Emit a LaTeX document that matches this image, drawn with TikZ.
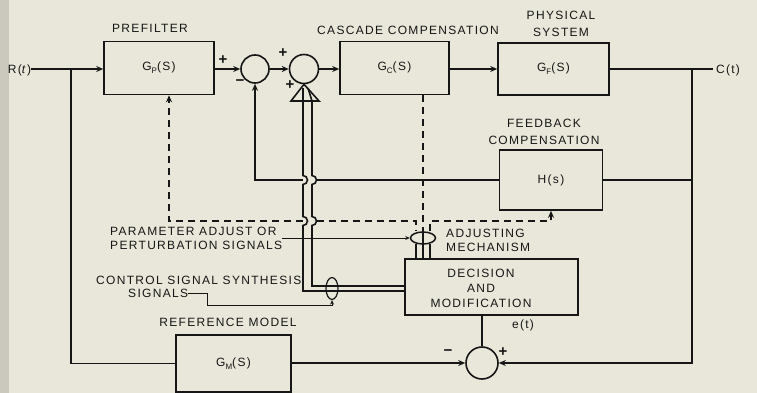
\documentclass[tikz,border=0pt]{standalone}
\usepackage{fontspec}
\setmainfont{Liberation Sans}[LetterSpace=11]
\usetikzlibrary{arrows.meta,shapes.geometric}
\definecolor{paper}{HTML}{E9E7DA}
\definecolor{strip}{HTML}{CBC9BD}
\definecolor{ink}{HTML}{161616}
\newcommand{\ssb}[1]{\raisebox{-0.45ex}{\fontsize{8}{8}\selectfont #1}}
\newcommand{\lbfont}{\fontsize{12}{14}\selectfont}
\begin{document}
\begin{tikzpicture}[x=1pt,y=-1pt,
  every node/.style={text=ink},
  ln/.style={draw=ink,line width=1.6pt},
  thinln/.style={draw=ink,line width=0.9pt,>={Stealth[length=4.5pt,width=4pt]}},
  blk/.style={draw=ink,line width=1.6pt,inner sep=0pt,font=\lbfont},
  sumj/.style={circle,draw=ink,line width=1.6pt,inner sep=0pt},
  lbl/.style={inner sep=0pt,font=\lbfont},
  sgn/.style={inner sep=0pt,font=\fontsize{15}{15}\selectfont\bfseries},
  dsh/.style={draw=ink,line width=1.6pt,dash pattern=on 7pt off 5pt},
  >={Stealth[length=7pt,width=6pt]}]
\fill[paper] (0,0) rectangle (757,393);
\fill[strip] (0,0) rectangle (9,393);
\useasboundingbox (0,0) rectangle (757,393);

% blocks
\node[blk,minimum width=110pt,minimum height=53pt] (pre) at (159,68) {G\ssb{P}(S)};
\node[sumj,minimum size=28pt] (s1) at (255,69) {};
\node[sumj,minimum size=29pt] (s2) at (304,69) {};
\node[blk,minimum width=109pt,minimum height=53pt] (cas) at (394.5,68) {G\ssb{C}(S)};
\node[blk,minimum width=111pt,minimum height=52pt] (phy) at (553.5,69) {G\ssb{F}(S)};
\node[blk,minimum width=103pt,minimum height=60pt] (fb) at (551,180) {H(s)};
\node[blk,minimum width=173pt,minimum height=56pt] (dec) at (491.5,287) {};
\node[lbl,align=center,font=\fontsize{12}{15}\selectfont] (dectxt) at (481,288) {DECISION\\AND\\MODIFICATION};
\node[blk,minimum width=115pt,minimum height=57pt] (ref) at (233.5,363.5) {G\ssb{M}(S)};
\node[sumj,minimum size=32pt] (s3) at (482,363) {};
\node[ellipse,draw=ink,line width=1.5pt,minimum width=25pt,minimum height=12pt,inner sep=0pt] (adj) at (423,238) {};
\node[ellipse,draw=ink,line width=1.2pt,minimum width=12pt,minimum height=22pt,inner sep=0pt] (css) at (332,288.5) {};

% labels
\node[lbl] (lpre) at (150,28) {PREFILTER};
\node[lbl] (lcas) at (408,30) {CASCADE COMPENSATION};
\node[lbl,align=center,font=\fontsize{12}{17}\selectfont] (lphy) at (561,23.5) {PHYSICAL\\SYSTEM};
\node[lbl,align=center,font=\fontsize{12}{17}\selectfont] (lfb) at (544,131.5) {FEEDBACK\\COMPENSATION};
\node[lbl] (rt) at (19.5,70) {R(\textit{t})};
\node[lbl] (ct) at (728,70) {C(t)};
\node[lbl,align=left,anchor=west] (ladj) at (446,240) {ADJUSTING\\MECHANISM};
\node[lbl,align=left,anchor=west] (lpar) at (110,238) {PARAMETER ADJUST OR\\PERTURBATION SIGNALS};
\node[lbl,anchor=west] (lctl) at (96,280) {CONTROL SIGNAL SYNTHESIS};
\node[lbl,anchor=west] (lsig) at (128,293) {SIGNALS};
\node[lbl] (lref) at (228,322) {REFERENCE MODEL};
\node[lbl] (le) at (523,325) {e(t)};
\node[sgn] (p1) at (223,60) {+};
\node[sgn] (m1) at (240,83) {−};
\node[sgn] (p2) at (283,53) {+};
\node[sgn] (p3) at (290,85) {+};
\node[sgn] (m3) at (448,353) {−};
\node[sgn] (p4) at (503,352) {+};

% coordinates
\coordinate (br) at (71,69);
\coordinate (out) at (713,69);
\coordinate (fbr) at (692,69);
\coordinate (hopA) at (316.5,180);
\coordinate (hopB) at (303,180);
\coordinate (hopC) at (316.5,221);
\coordinate (hopD) at (303,221);
\coordinate (c1) at (207,305);

% main forward path
\draw[ln,->] (rt.east |- s1) -- (pre.west |- s1);
\draw[ln] (br) |- (ref.west);
\draw[ln,->] (pre.east |- s1) -- (s1.west);
\draw[ln,->] (s1.east) -- (s2.west);
\draw[ln,->] (s2.east) -- (cas.west |- s2);
\draw[ln,->] (cas.east |- s2) -- (phy.west |- s2);
\draw[ln] (phy.east |- s2) -- (out);
\draw[ln] (fbr) |- (fb.east);
\draw[ln,->] (fbr) |- (s3.east);

% feedback compensation loop
\draw[ln] (fb.west) -- (hopA);
\draw[ln,->] (hopB) -| (s1.south);

% double lines (control signal synthesis)
\draw[ln] (s2.south) -- (291,101) -- (319,101) -- cycle;
\draw[ln] (303,101) -- (303,88);
\draw[ln] (312,101) -- (308,88);
\draw[ln] (303,101) -- (303,175.5) arc[start angle=90,end angle=-90,radius=4.5pt]
  -- (303,216.5) arc[start angle=90,end angle=-90,radius=4.5pt]
  -- (303,291) -- (dec.west |- 0,291);
\draw[ln] (312,101) -- (312,175.5) arc[start angle=90,end angle=-90,radius=4.5pt]
  -- (312,216.5) arc[start angle=90,end angle=-90,radius=4.5pt]
  -- (312,286) -- (dec.west |- 0,286);

% dashed adjusting lines
\draw[dsh,->] (hopD) -| ([xshift=10pt]pre.south);
\draw[dsh] (hopC) -| ([xshift=-7pt]adj.north);
\draw[dsh] ([xshift=28.5pt]cas.south) -- ([yshift=4pt]adj.north);
\draw[dsh,->] ([xshift=7pt]adj.north) |- (fb.south |- hopC) -- (fb.south);
\draw[ln] ([yshift=4pt]adj.north) -- (adj.south);
\draw[ln] ([xshift=-7pt,yshift=1pt]adj.south) -- ([xshift=-7pt]adj.south |- dec.north);
\draw[ln] (adj.south) -- (adj.south |- dec.north);
\draw[ln] ([xshift=7pt,yshift=1pt]adj.south) -- ([xshift=7pt]adj.south |- dec.north);

% annotation arrows
\draw[thinln,->] (lpar.east) -- (adj.west);
\draw[thinln,->] (lsig.east) -| (c1) -| (css.south);

% reference model comparison
\draw[ln] (s3 |- dec.south) -- (s3.north);
\draw[ln,->] (ref.east |- s3) -- (s3.west);
\end{tikzpicture}
\end{document}
